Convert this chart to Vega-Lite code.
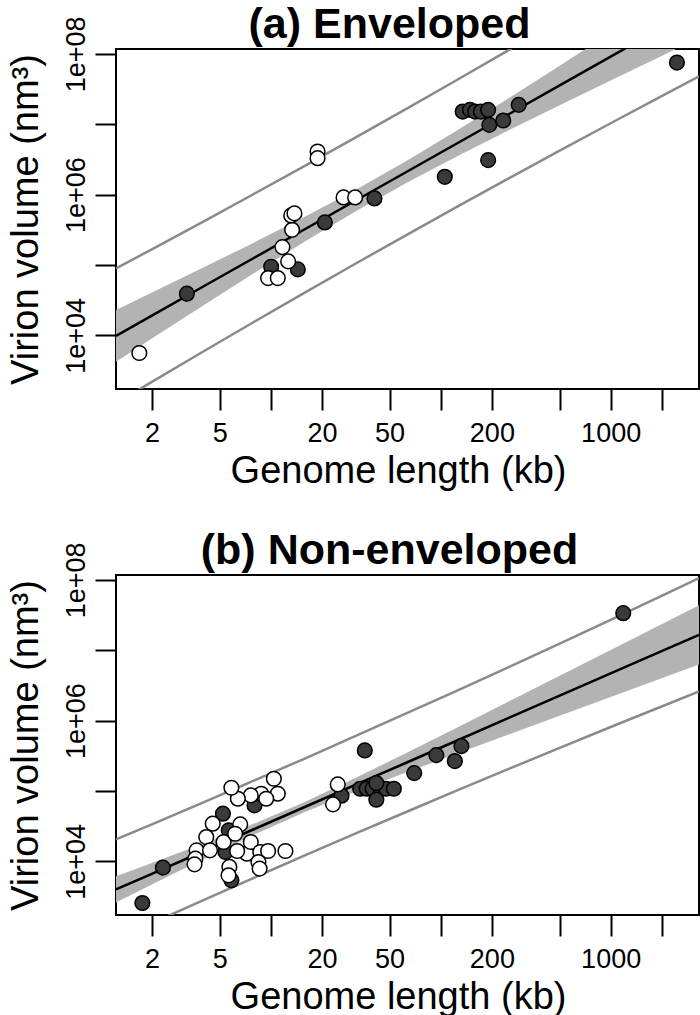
{
  "$schema": "https://vega.github.io/schema/vega-lite/v6.json",
  "background": "white",
  "padding": {"left": 5, "top": 3, "right": 0, "bottom": 0},
  "spacing": 38,
  "config": {
    "font": "Liberation Sans",
    "view": {"stroke": "black", "strokeWidth": 2},
    "axis": {"domain": false, "grid": false, "ticks": true, "tickColor": "black", "tickWidth": 2, "tickSize": 21,
      "labelFont": "Liberation Sans", "labelFontSize": 27, "labelColor": "black",
      "titleFont": "Liberation Sans", "titleFontSize": 38, "titleFontWeight": "normal", "titleColor": "black",
      "labelOverlap": false, "labelFlush": false, "labelBound": false},
    "axisX": {"labelPadding": 31, "labelBaseline": "alphabetic", "labelAlign": "center", "labelAngle": 0,
      "titleX": 282, "titleY": 93, "titleAlign": "center", "titleBaseline": "alphabetic"},
    "axisY": {"labelAngle": 270, "labelAlign": "center", "labelBaseline": "alphabetic", "labelPadding": 11,
      "titleAngle": 270, "titleX": -79, "titleY": 170, "titleAlign": "center", "titleBaseline": "alphabetic"}
  },
  "datasets": {
    "pts": [
      {"panel": "a", "type": "filled", "genome_kb": 3.206, "volume_nm3": 39080},
      {"panel": "a", "type": "filled", "genome_kb": 10.05, "volume_nm3": 94410},
      {"panel": "a", "type": "filled", "genome_kb": 14.42, "volume_nm3": 86500},
      {"panel": "a", "type": "filled", "genome_kb": 20.8, "volume_nm3": 402700},
      {"panel": "a", "type": "filled", "genome_kb": 40.74, "volume_nm3": 883100},
      {"panel": "a", "type": "filled", "genome_kb": 105.7, "volume_nm3": 1791000},
      {"panel": "a", "type": "filled", "genome_kb": 190.1, "volume_nm3": 3090000},
      {"panel": "a", "type": "filled", "genome_kb": 134.6, "volume_nm3": 15170000},
      {"panel": "a", "type": "filled", "genome_kb": 148.6, "volume_nm3": 16030000},
      {"panel": "a", "type": "filled", "genome_kb": 159.2, "volume_nm3": 15170000},
      {"panel": "a", "type": "filled", "genome_kb": 172.2, "volume_nm3": 15170000},
      {"panel": "a", "type": "filled", "genome_kb": 190.1, "volume_nm3": 16030000},
      {"panel": "a", "type": "filled", "genome_kb": 193.2, "volume_nm3": 9817000},
      {"panel": "a", "type": "filled", "genome_kb": 233.3, "volume_nm3": 11300000},
      {"panel": "a", "type": "filled", "genome_kb": 287.7, "volume_nm3": 18880000},
      {"panel": "a", "type": "filled", "genome_kb": 2455, "volume_nm3": 75340000},
      {"panel": "a", "type": "open", "genome_kb": 1.683, "volume_nm3": 5610},
      {"panel": "a", "type": "open", "genome_kb": 9.638, "volume_nm3": 65160},
      {"panel": "a", "type": "open", "genome_kb": 10.99, "volume_nm3": 65160},
      {"panel": "a", "type": "open", "genome_kb": 12.65, "volume_nm3": 112500},
      {"panel": "a", "type": "open", "genome_kb": 11.7, "volume_nm3": 179500},
      {"panel": "a", "type": "open", "genome_kb": 13.34, "volume_nm3": 316200},
      {"panel": "a", "type": "open", "genome_kb": 13.18, "volume_nm3": 505800},
      {"panel": "a", "type": "open", "genome_kb": 13.77, "volume_nm3": 540800},
      {"panel": "a", "type": "open", "genome_kb": 18.84, "volume_nm3": 4102000},
      {"panel": "a", "type": "open", "genome_kb": 18.84, "volume_nm3": 3296000},
      {"panel": "a", "type": "open", "genome_kb": 26.79, "volume_nm3": 912000},
      {"panel": "a", "type": "open", "genome_kb": 31.33, "volume_nm3": 912000},
      {"panel": "b", "type": "filled", "genome_kb": 1.754, "volume_nm3": 2559},
      {"panel": "b", "type": "filled", "genome_kb": 2.317, "volume_nm3": 8128},
      {"panel": "b", "type": "filled", "genome_kb": 5.224, "volume_nm3": 47530},
      {"panel": "b", "type": "filled", "genome_kb": 5.861, "volume_nm3": 5370},
      {"panel": "b", "type": "filled", "genome_kb": 5.408, "volume_nm3": 13580},
      {"panel": "b", "type": "filled", "genome_kb": 5.649, "volume_nm3": 27540},
      {"panel": "b", "type": "filled", "genome_kb": 8.017, "volume_nm3": 62370},
      {"panel": "b", "type": "filled", "genome_kb": 26.06, "volume_nm3": 85700},
      {"panel": "b", "type": "filled", "genome_kb": 35.73, "volume_nm3": 376700},
      {"panel": "b", "type": "filled", "genome_kb": 33.57, "volume_nm3": 107600},
      {"panel": "b", "type": "filled", "genome_kb": 36.64, "volume_nm3": 107600},
      {"panel": "b", "type": "filled", "genome_kb": 39.72, "volume_nm3": 107600},
      {"panel": "b", "type": "filled", "genome_kb": 44.06, "volume_nm3": 110900},
      {"panel": "b", "type": "filled", "genome_kb": 47.64, "volume_nm3": 107600},
      {"panel": "b", "type": "filled", "genome_kb": 52.97, "volume_nm3": 107600},
      {"panel": "b", "type": "filled", "genome_kb": 41.78, "volume_nm3": 129400},
      {"panel": "b", "type": "filled", "genome_kb": 41.78, "volume_nm3": 75160},
      {"panel": "b", "type": "filled", "genome_kb": 69.82, "volume_nm3": 179500},
      {"panel": "b", "type": "filled", "genome_kb": 94.19, "volume_nm3": 323600},
      {"panel": "b", "type": "filled", "genome_kb": 121.1, "volume_nm3": 266100},
      {"panel": "b", "type": "filled", "genome_kb": 132.4, "volume_nm3": 434500},
      {"panel": "b", "type": "filled", "genome_kb": 1186, "volume_nm3": 33650000},
      {"panel": "b", "type": "open", "genome_kb": 24.77, "volume_nm3": 123900},
      {"panel": "b", "type": "open", "genome_kb": 23.23, "volume_nm3": 64570},
      {"panel": "b", "type": "open", "genome_kb": 10.42, "volume_nm3": 149300},
      {"panel": "b", "type": "open", "genome_kb": 10.99, "volume_nm3": 91410},
      {"panel": "b", "type": "open", "genome_kb": 8.77, "volume_nm3": 91410},
      {"panel": "b", "type": "open", "genome_kb": 7.621, "volume_nm3": 86500},
      {"panel": "b", "type": "open", "genome_kb": 6.397, "volume_nm3": 77620},
      {"panel": "b", "type": "open", "genome_kb": 9.397, "volume_nm3": 77620},
      {"panel": "b", "type": "open", "genome_kb": 5.861, "volume_nm3": 111200},
      {"panel": "b", "type": "open", "genome_kb": 4.55, "volume_nm3": 34280},
      {"panel": "b", "type": "open", "genome_kb": 4.169, "volume_nm3": 22130},
      {"panel": "b", "type": "open", "genome_kb": 6.607, "volume_nm3": 33500},
      {"panel": "b", "type": "open", "genome_kb": 3.656, "volume_nm3": 14320},
      {"panel": "b", "type": "open", "genome_kb": 3.597, "volume_nm3": 10910},
      {"panel": "b", "type": "open", "genome_kb": 3.556, "volume_nm3": 9060},
      {"panel": "b", "type": "open", "genome_kb": 4.385, "volume_nm3": 14320},
      {"panel": "b", "type": "open", "genome_kb": 5.272, "volume_nm3": 18840},
      {"panel": "b", "type": "open", "genome_kb": 6.166, "volume_nm3": 24660},
      {"panel": "b", "type": "open", "genome_kb": 7.228, "volume_nm3": 12850},
      {"panel": "b", "type": "open", "genome_kb": 7.621, "volume_nm3": 18840},
      {"panel": "b", "type": "open", "genome_kb": 6.339, "volume_nm3": 14030},
      {"panel": "b", "type": "open", "genome_kb": 8.67, "volume_nm3": 13580},
      {"panel": "b", "type": "open", "genome_kb": 9.638, "volume_nm3": 14030},
      {"panel": "b", "type": "open", "genome_kb": 8.453, "volume_nm3": 9772},
      {"panel": "b", "type": "open", "genome_kb": 8.59, "volume_nm3": 7870},
      {"panel": "b", "type": "open", "genome_kb": 12.19, "volume_nm3": 14030},
      {"panel": "b", "type": "open", "genome_kb": 5.702, "volume_nm3": 8318},
      {"panel": "b", "type": "open", "genome_kb": 5.636, "volume_nm3": 6324}
    ],
    "fits": [
      {"panel": "a", "genome_kb": 1.227, "fit": 9840, "lo": 4210, "hi": 23000, "plo": 1087, "phi": 89100},
      {"panel": "a", "genome_kb": 1.995, "fit": 19100, "lo": 8995, "hi": 40550, "plo": 2183, "phi": 167100},
      {"panel": "a", "genome_kb": 3.981, "fit": 48980, "lo": 26300, "hi": 91200, "plo": 5834, "phi": 411100},
      {"panel": "a", "genome_kb": 7.943, "fit": 125600, "lo": 76030, "hi": 207500, "plo": 15450, "phi": 1021000},
      {"panel": "a", "genome_kb": 15.85, "fit": 322100, "lo": 214800, "hi": 483100, "plo": 40460, "phi": 2564000},
      {"panel": "a", "genome_kb": 31.62, "fit": 826000, "lo": 582100, "hi": 1172000, "plo": 105000, "phi": 6501000},
      {"panel": "a", "genome_kb": 63.1, "fit": 2113000, "lo": 1479000, "hi": 3020000, "plo": 267900, "phi": 16670000},
      {"panel": "a", "genome_kb": 125.9, "fit": 5420000, "lo": 3548000, "hi": 8279000, "plo": 679200, "phi": 43250000},
      {"panel": "a", "genome_kb": 251.2, "fit": 13900000, "lo": 8222000, "hi": 23500000, "plo": 1702000, "phi": 113500000},
      {"panel": "a", "genome_kb": 501.2, "fit": 35650000, "lo": 18660000, "hi": 68080000, "plo": 4217000, "phi": 301300000},
      {"panel": "a", "genome_kb": 1000, "fit": 91410000, "lo": 41880000, "hi": 199500000, "plo": 10350000, "phi": 807200000},
      {"panel": "a", "genome_kb": 1995, "fit": 234400000, "lo": 93540000, "hi": 587500000, "plo": 25180000, "phi": 2183000000},
      {"panel": "a", "genome_kb": 3311, "fit": 467700000, "lo": 168300000, "hi": 1300000000, "plo": 47970000, "phi": 4560000000},
      {"panel": "b", "genome_kb": 1.227, "fit": 3990, "lo": 2594, "hi": 6138, "plo": 776.2, "phi": 20510},
      {"panel": "b", "genome_kb": 1.995, "fit": 6653, "lo": 4667, "hi": 9484, "plo": 1318, "phi": 33570},
      {"panel": "b", "genome_kb": 3.981, "fit": 13800, "lo": 10690, "hi": 17820, "plo": 2793, "phi": 68230},
      {"panel": "b", "genome_kb": 7.943, "fit": 28580, "lo": 23880, "hi": 34200, "plo": 5834, "phi": 140000},
      {"panel": "b", "genome_kb": 15.85, "fit": 59160, "lo": 50120, "hi": 69820, "plo": 12110, "phi": 289100},
      {"panel": "b", "genome_kb": 31.62, "fit": 122700, "lo": 97950, "hi": 153800, "plo": 24890, "phi": 605300},
      {"panel": "b", "genome_kb": 63.1, "fit": 254100, "lo": 184500, "hi": 349900, "plo": 50700, "phi": 1274000},
      {"panel": "b", "genome_kb": 125.9, "fit": 526000, "lo": 343600, "hi": 805400, "plo": 102600, "phi": 2698000},
      {"panel": "b", "genome_kb": 251.2, "fit": 1091000, "lo": 636800, "hi": 1871000, "plo": 206100, "phi": 5781000},
      {"panel": "b", "genome_kb": 501.2, "fit": 2259000, "lo": 1175000, "hi": 4345000, "plo": 409300, "phi": 12470000},
      {"panel": "b", "genome_kb": 1000, "fit": 4688000, "lo": 2173000, "hi": 10120000, "plo": 811000, "phi": 27100000},
      {"panel": "b", "genome_kb": 1995, "fit": 9705000, "lo": 4009000, "hi": 23500000, "plo": 1589000, "phi": 59290000},
      {"panel": "b", "genome_kb": 3311, "fit": 16560000, "lo": 6266000, "hi": 43750000, "plo": 2594000, "phi": 105700000}
    ]
  },
  "vconcat": [
    {
      "width": 583, "height": 340,
      "title": {"text": "(a) Enveloped", "fontSize": 43, "fontWeight": "bold", "font": "Liberation Sans", "color": "black", "anchor": "middle", "frame": "group", "dx": -18, "baseline": "alphabetic", "offset": -65},
      "encoding": {
        "x": {"field": "genome_kb", "type": "quantitative", "title": "Genome length (kb)",
          "scale": {"type": "log", "domain": [1.227, 3311], "nice": false, "zero": false},
          "axis": {"values": [2, 5, 10, 20, 50, 100, 200, 500, 1000, 2000], "labelExpr": "indexof([2,5,20,50,200,1000], datum.value) >= 0 ? '' + datum.value : ''"}}
      },
      "layer": [
        {"data": {"name": "fits"}, "transform": [{"filter": "datum.panel == 'a'"}],
          "mark": {"type": "area", "color": "#b3b3b3", "clip": true},
          "encoding": {"y": {"field": "lo", "type": "quantitative", "title": "Virion volume (nm³)",
            "scale": {"type": "log", "domain": [1726, 117500000], "nice": false, "zero": false},
            "axis": {"values": [10000, 100000, 1000000, 10000000, 100000000], "labelExpr": "datum.value == 10000 ? '1e+04' : datum.value == 1000000 ? '1e+06' : datum.value == 100000000 ? '1e+08' : ''"}},
            "y2": {"field": "hi"}}},
        {"data": {"name": "fits"}, "transform": [{"filter": "datum.panel == 'a'"}],
          "mark": {"type": "line", "color": "#8a8a8a", "strokeWidth": 2.5, "clip": true},
          "encoding": {"y": {"field": "plo", "type": "quantitative", "title": "Virion volume (nm³)"}}},
        {"data": {"name": "fits"}, "transform": [{"filter": "datum.panel == 'a'"}],
          "mark": {"type": "line", "color": "#8a8a8a", "strokeWidth": 2.5, "clip": true},
          "encoding": {"y": {"field": "phi", "type": "quantitative", "title": "Virion volume (nm³)"}}},
        {"data": {"name": "fits"}, "transform": [{"filter": "datum.panel == 'a'"}],
          "mark": {"type": "line", "color": "black", "strokeWidth": 2.5, "clip": true},
          "encoding": {"y": {"field": "fit", "type": "quantitative", "title": "Virion volume (nm³)"}}},
        {"data": {"name": "pts"}, "transform": [{"filter": "datum.panel == 'a'"}],
          "mark": {"type": "circle", "size": 215, "stroke": "black", "strokeWidth": 1.5, "opacity": 1},
          "encoding": {"y": {"field": "volume_nm3", "type": "quantitative", "title": "Virion volume (nm³)"},
            "fill": {"field": "type", "type": "nominal", "scale": {"domain": ["filled", "open"], "range": ["#3a3a3a", "white"]}, "legend": null},
            "order": {"field": "type", "sort": "ascending"}}}
      ]
    },
    {
      "width": 583, "height": 340,
      "title": {"text": "(b) Non-enveloped", "fontSize": 43, "fontWeight": "bold", "font": "Liberation Sans", "color": "black", "anchor": "middle", "frame": "group", "dx": -18, "baseline": "alphabetic", "offset": -65},
      "encoding": {
        "x": {"field": "genome_kb", "type": "quantitative", "title": "Genome length (kb)",
          "scale": {"type": "log", "domain": [1.227, 3311], "nice": false, "zero": false},
          "axis": {"values": [2, 5, 10, 20, 50, 100, 200, 500, 1000, 2000], "labelExpr": "indexof([2,5,20,50,200,1000], datum.value) >= 0 ? '' + datum.value : ''"}}
      },
      "layer": [
        {"data": {"name": "fits"}, "transform": [{"filter": "datum.panel == 'b'"}],
          "mark": {"type": "area", "color": "#b3b3b3", "clip": true},
          "encoding": {"y": {"field": "lo", "type": "quantitative", "title": "Virion volume (nm³)",
            "scale": {"type": "log", "domain": [1726, 117500000], "nice": false, "zero": false},
            "axis": {"values": [10000, 100000, 1000000, 10000000, 100000000], "labelExpr": "datum.value == 10000 ? '1e+04' : datum.value == 1000000 ? '1e+06' : datum.value == 100000000 ? '1e+08' : ''"}},
            "y2": {"field": "hi"}}},
        {"data": {"name": "fits"}, "transform": [{"filter": "datum.panel == 'b'"}],
          "mark": {"type": "line", "color": "#8a8a8a", "strokeWidth": 2.5, "clip": true},
          "encoding": {"y": {"field": "plo", "type": "quantitative", "title": "Virion volume (nm³)"}}},
        {"data": {"name": "fits"}, "transform": [{"filter": "datum.panel == 'b'"}],
          "mark": {"type": "line", "color": "#8a8a8a", "strokeWidth": 2.5, "clip": true},
          "encoding": {"y": {"field": "phi", "type": "quantitative", "title": "Virion volume (nm³)"}}},
        {"data": {"name": "fits"}, "transform": [{"filter": "datum.panel == 'b'"}],
          "mark": {"type": "line", "color": "black", "strokeWidth": 2.5, "clip": true},
          "encoding": {"y": {"field": "fit", "type": "quantitative", "title": "Virion volume (nm³)"}}},
        {"data": {"name": "pts"}, "transform": [{"filter": "datum.panel == 'b'"}],
          "mark": {"type": "circle", "size": 215, "stroke": "black", "strokeWidth": 1.5, "opacity": 1},
          "encoding": {"y": {"field": "volume_nm3", "type": "quantitative", "title": "Virion volume (nm³)"},
            "fill": {"field": "type", "type": "nominal", "scale": {"domain": ["filled", "open"], "range": ["#3a3a3a", "white"]}, "legend": null},
            "order": {"field": "type", "sort": "ascending"}}}
      ]
    }
  ]
}
